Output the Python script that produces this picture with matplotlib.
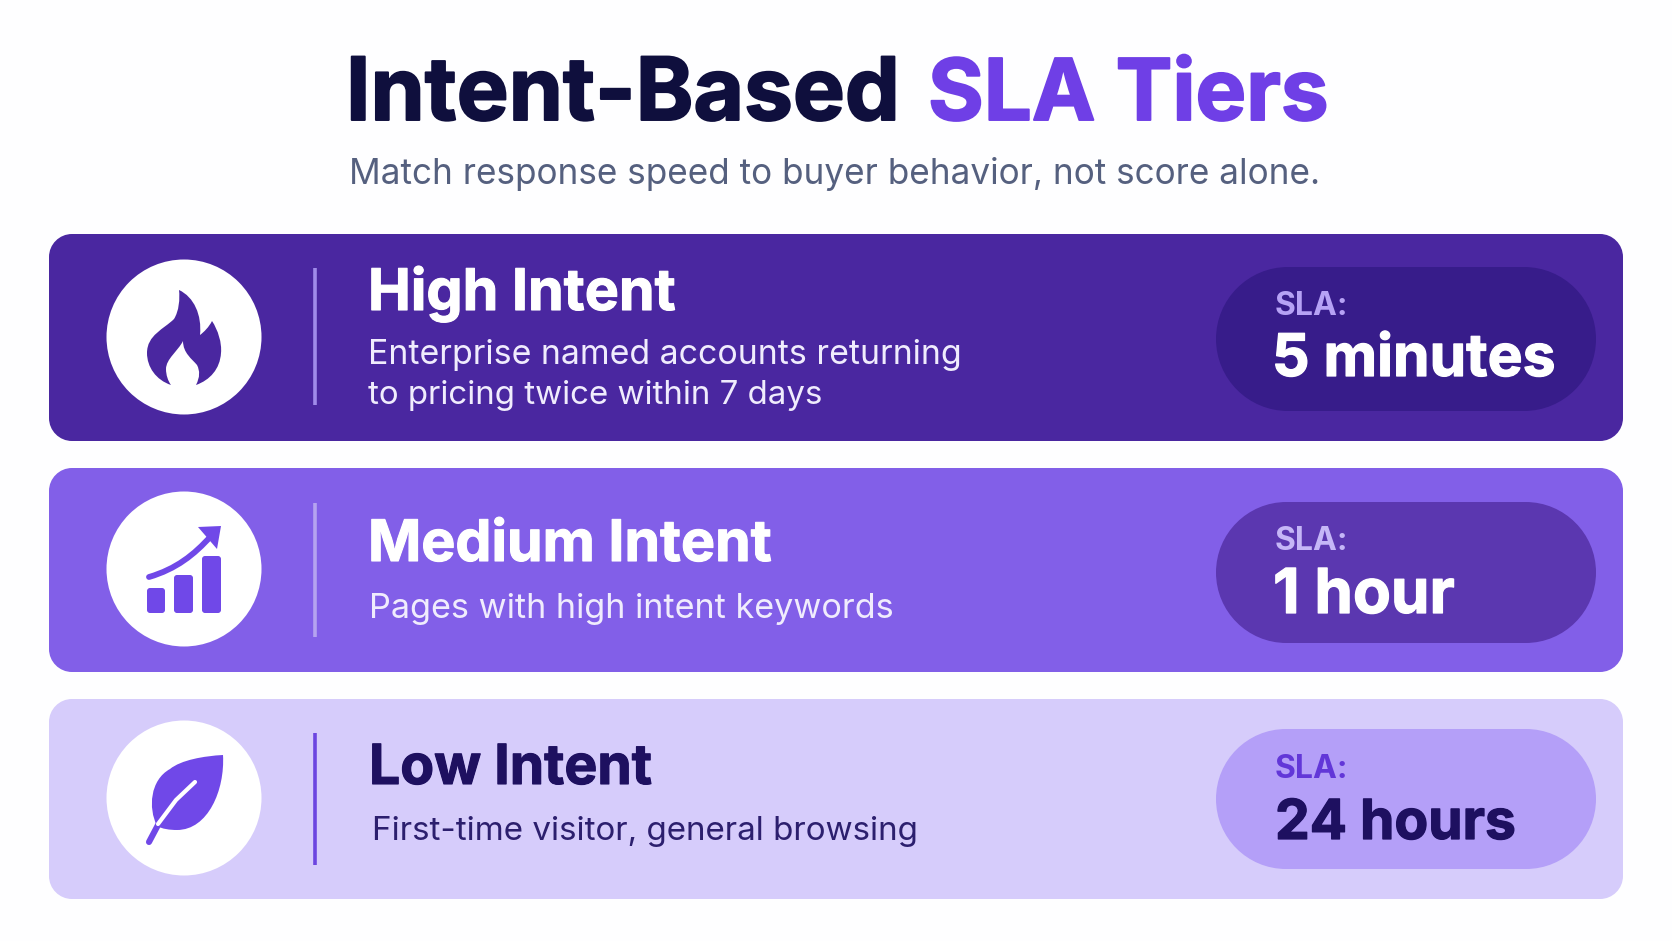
import matplotlib
matplotlib.use("Agg")
import matplotlib.pyplot as plt
import matplotlib.patheffects as pe
from matplotlib.patches import Circle, PathPatch
from matplotlib.path import Path

tiers = ["High Intent", "Medium Intent", "Low Intent"]
descriptions = [
    ["Enterprise named accounts returning", "to pricing twice within 7 days"],
    ["Pages with high intent keywords"],
    ["First-time visitor, general browsing"],
]
sla_values = ["5 minutes", "1 hour", "24 hours"]

# pixel layout per card
card_y = [(234, 441), (468, 672), (699, 899)]
circle_y = [337, 569, 798]
divider_y = [(268, 405), (503, 637), (733, 865)]
pill_y = [(267, 411), (502, 643), (729, 869)]
title_base = [310, 561, 784]
title_x = [368, 368, 369]
title_size = [41.3, 41.2, 39.8]
desc_base = [[364, 404], [618], [840]]
desc_x = [368, 369, 372]
desc_size = [[24.4, 23.8], [24.6], [23.9]]
sla_base = [315, 550, 778]
sla_x = [1275, 1275, 1275]
value_base = [376, 613, 839]
value_x = [1272, 1273, 1275]
value_size = [42.3, 44.6, 39.7]

card_col = ["#4A27A0", "#825FE8", "#D6CCFB"]
pill_col = ["#371C8A", "#5B37B0", "#B49FF8"]
div_col = ["#A08BEA", "#B5A3F0", "#6C45E0"]
icon_col = ["#4A27A0", "#7048E8", "#7048E8"]
title_col = ["#FFFFFF", "#FFFFFF", "#1E1060"]
desc_col = ["#F0ECFD", "#F0ECFD", "#2C1F6E"]
sla_col = ["#B6A2F5", "#C5B6F7", "#6237D8"]
value_col = ["#FFFFFF", "#FFFFFF", "#1E1060"]

plt.rcParams["font.family"] = ["Inter", "DejaVu Sans"]

fig = plt.figure(figsize=(16.72, 9.41), dpi=100, facecolor="#FEFEFF")
ax = fig.add_axes([0, 0, 1, 1])
ax.set_xlim(0, 1672)
ax.set_ylim(941, 0)
ax.axis("off")


def rounded(x0, y0, x1, y1, r, color, z=1):
    k = r * 0.5523
    M, L, C, Z = Path.MOVETO, Path.LINETO, Path.CURVE4, Path.CLOSEPOLY
    verts = [(x0 + r, y0), (x1 - r, y0),
             (x1 - r + k, y0), (x1, y0 + r - k), (x1, y0 + r), (x1, y1 - r),
             (x1, y1 - r + k), (x1 - r + k, y1), (x1 - r, y1), (x0 + r, y1),
             (x0 + r - k, y1), (x0, y1 - r + k), (x0, y1 - r), (x0, y0 + r),
             (x0, y0 + r - k), (x0 + r - k, y0), (x0 + r, y0), (x0 + r, y0)]
    codes = [M, L, C, C, C, L, C, C, C, L, C, C, C, L, C, C, C, Z]
    ax.add_patch(PathPatch(Path(verts, codes), fc=color, ec="none", zorder=z))


def shape(cx, cy, verts, codes, color, z=4):
    moved = [(cx + x, cy + y) for x, y in verts]
    ax.add_patch(PathPatch(Path(moved, codes), fc=color, ec="none", zorder=z))


def heavy(color, width):
    # the reference type is a notch heavier than Inter Bold
    return [pe.withStroke(linewidth=width, foreground=color)]


def flame(cx, cy, color):
    M, C, Z = Path.MOVETO, Path.CURVE4, Path.CLOSEPOLY
    segs = [
        [(10, -40), (18, -22), (16, -2)],
        [(20, -5), (25, -10), (28, -16)],
        [(34, -7), (38, 6), (37, 16)],
        [(36, 32), (26, 43), (12, 48)],
        [(16, 40), (16, 34), (13, 28)],
        [(8, 22), (-1, 16), (-1, 4)],
        [(-6, 14), (-18, 22), (-18, 32)],
        [(-18, 38), (-16, 44), (-13, 48)],
        [(-28, 43), (-37, 30), (-37, 16)],
        [(-37, -2), (-20, -8), (-10, -18)],
        [(-5, -26), (-4, -38), (-5, -47)],
    ]
    verts = [(-5, -47)]
    codes = [M]
    for s in segs:
        verts += s
        codes += [C, C, C]
    verts.append((-5, -47))
    codes.append(Z)
    shape(cx, cy, verts, codes, color)


def growth(cx, cy, color):
    for x0, x1, top in [(-37, -19, 19), (-10, 9, 6), (18, 37, -13)]:
        rounded(cx + x0, cy + top, cx + x1, cy + 44, 3, color, z=4)
    ax.add_patch(PathPatch(Path([(cx - 35, cy + 8), (cx - 8, cy), (cx + 10, cy - 14), (cx + 27, cy - 33)],
                                [Path.MOVETO, Path.CURVE4, Path.CURVE4, Path.CURVE4]),
                           fc="none", ec=color, lw=4.2, capstyle="round", zorder=4))
    M, L, Z = Path.MOVETO, Path.LINETO, Path.CLOSEPOLY
    shape(cx, cy, [(14, -42), (37, -43), (33, -20), (14, -42)], [M, L, L, Z], color)


def leaf(cx, cy, color):
    M, C, Z = Path.MOVETO, Path.CURVE4, Path.CLOSEPOLY
    verts = [(39, -43), (41, -8), (24, 32), (-7, 32), (-14, 32), (-22, 31), (-27, 28),
             (-36, 10), (-34, -18), (-14, -29), (-3, -38), (20, -42), (39, -43), (39, -43)]
    shape(cx, cy, verts, [M, C, C, C, C, C, C, C, C, C, C, C, C, Z], color)
    ax.plot([cx - 35, cx - 26], [cy + 44, cy + 27], color=color, lw=4.4,
            solid_capstyle="round", zorder=4)
    ax.plot([cx - 26, cx - 8, cx + 11], [cy + 26, cy + 2, cy - 16], color="white", lw=3,
            solid_capstyle="round", zorder=5)


icons = [flame, growth, leaf]

ax.text(346, 120, "Intent-Based", fontsize=62.8, fontweight="bold", color="#0F0F3D", va="baseline",
        path_effects=heavy("#0F0F3D", 1.4))
ax.text(928, 120, "SLA Tiers", fontsize=61.3, fontweight="bold", color="#6F3FE6", va="baseline",
        path_effects=heavy("#6F3FE6", 1.4))
ax.text(349, 184, "Match response speed to buyer behavior, not score alone.",
        fontsize=25.3, color="#55607F", va="baseline")

for i, tier in enumerate(tiers):
    y0, y1 = card_y[i]
    rounded(49, y0, 1623, y1, 23, card_col[i])
    ax.add_patch(Circle((184, circle_y[i]), 77.5, fc="white", ec="none", zorder=3))
    icons[i](184, circle_y[i], icon_col[i])
    ax.plot([315, 315], divider_y[i], color=div_col[i], lw=2.6, solid_capstyle="butt", zorder=3)
    rounded(1216, pill_y[i][0], 1596, pill_y[i][1], (pill_y[i][1] - pill_y[i][0]) / 2, pill_col[i], z=2)

    ax.text(title_x[i], title_base[i], tier, fontsize=title_size[i], fontweight="bold", color=title_col[i],
            va="baseline", path_effects=heavy(title_col[i], 0.8))
    for line, base, size in zip(descriptions[i], desc_base[i], desc_size[i]):
        ax.text(desc_x[i], base, line, fontsize=size, color=desc_col[i], va="baseline")
    ax.text(sla_x[i], sla_base[i], "SLA:", fontsize=23, fontweight="bold", color=sla_col[i], va="baseline")
    ax.text(value_x[i], value_base[i], sla_values[i], fontsize=value_size[i], fontweight="bold",
            color=value_col[i], va="baseline", path_effects=heavy(value_col[i], 0.9))

fig.savefig("out.png", dpi=100, facecolor=fig.get_facecolor())
